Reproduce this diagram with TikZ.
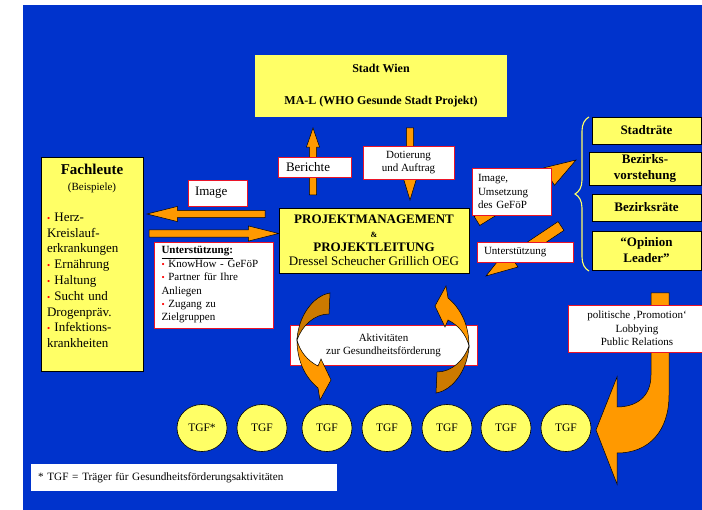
\documentclass[tikz,border=0pt]{standalone}
\usepackage{fontspec}
\setmainfont{Liberation Serif}
\usetikzlibrary{positioning, calc, shapes.geometric, shapes.arrows, decorations.pathreplacing}

\definecolor{bgblue}{RGB}{0,51,204}
\definecolor{boxyellow}{RGB}{255,255,102}
\definecolor{arrorange}{RGB}{255,153,0}
\definecolor{arrdark}{RGB}{204,122,0}
\definecolor{lblred}{RGB}{235,20,40}

\newcommand{\rdot}{\textcolor{red}{\fontsize{9}{9}\selectfont•}\ }

% block arrow from #2 to #3
\newcommand{\fatarrow}[3][]{%
  \path let \p1 = ($(#3)-(#2)$), \n1 = {veclen(\x1,\y1)} in
    (#2) -- node[pos=0, sloped, allow upside down, anchor=tail, blockarr, minimum height=\n1, #1] {} (#3);%
}

% curved arrow round the activities box
\newcommand{\swirl}{%
  \filldraw[draw=black, line width=0.5pt, fill=arrdark]
    (330,293) .. controls (312,296) and (298,318) .. (297,340)
    .. controls (302,326) and (314,314) .. (329,314) -- cycle;
  \filldraw[draw=black, line width=0.5pt, fill=arrorange]
    (297,340) .. controls (297,362) and (306,378) .. (318,388)
    -- (320,400) -- (331,380) -- (321,359) -- (318,366)
    .. controls (308,361) and (300,352) .. (297,340) -- cycle;
}

\tikzset{
  ybox/.style={draw=black, line width=0.6pt, fill=boxyellow, inner sep=0pt},
  wlabel/.style={draw=lblred, line width=0.7pt, fill=white, inner sep=0pt,
    font=\fontsize{11}{13.4}\selectfont},
  rbox/.style={ybox, minimum width=109pt, align=center,
    font=\bfseries\fontsize{13}{16}\selectfont},
  blockarr/.style={single arrow, draw=black, line width=0.5pt, fill=arrorange,
    inner xsep=0pt, inner ysep=3.3pt, outer sep=0pt,
    single arrow head extend=4pt, single arrow tip angle=28},
  tgf/.style={ellipse, draw=black, line width=0.6pt, fill=boxyellow,
    minimum width=50pt, minimum height=47pt, inner sep=0pt,
    font=\fontsize{11.5}{13}\selectfont},
  yellowbrace/.style={decorate, decoration={brace, amplitude=14pt},
    draw=boxyellow, line width=1.1pt},
}

\begin{document}
\begin{tikzpicture}[x=1pt, y=-1pt]
  \useasboundingbox (0,0) rectangle (702,510);
  \fill[white] (0,0) rectangle (702,510);
  \fill[bgblue] (23,5) rectangle (702,510);

  % main boxes
  \node[ybox, draw=none, minimum width=252pt, minimum height=62pt, align=center,
        font=\bfseries\fontsize{12}{14}\selectfont] (wien) at (381,86)
        {Stadt Wien\\[18pt]MA-L (WHO Gesunde Stadt Projekt)};
  \node[ybox, minimum width=190pt, minimum height=65pt, align=center,
        font=\fontsize{13}{14}\selectfont] (pm) at (374,240.5)
        {\textbf{PROJEKTMANAGEMENT}\\{\fontsize{8}{9}\selectfont\textbf{\&}}\\
         \textbf{PROJEKTLEITUNG}\\Dressel Scheucher Grillich OEG};
  \node[ybox, text width=90pt, inner xsep=6pt, minimum height=214pt, align=left,
        font=\fontsize{13}{15.8}\selectfont] (fach) at (92,264)
        {{\centering{\fontsize{15}{17}\selectfont\bfseries Fachleute}\\
          {\fontsize{11}{13}\selectfont (Beispiele)}\par}%
         \vspace{15pt}%
         \rdot Herz-\\Kreislauf-\\erkrankungen\\\rdot Ernährung\\\rdot Haltung\\
         \rdot Sucht und\\Drogenpräv.\\\rdot Infektions-\\krankheiten\par
         \vspace{16pt}\hrule height 0pt depth 0pt width 0pt};

  % decision makers
  \node[rbox, minimum height=27pt] (stadtr) at (646.5,130.5) {Stadträte};
  \node[rbox, minimum width=112pt, minimum height=33pt] (bezv) at (645,168.5) {Bezirks-\\vorstehung};
  \node[rbox, minimum height=27pt] (bezr) at (646.5,207.5) {Bezirksräte};
  \node[rbox, minimum height=39pt] (opin) at (646.5,250.5) {“Opinion\\Leader”};
  \draw[yellowbrace] (589,271) -- (589,117);

  % arrow ends
  \coordinate (berS) at (313,195);
  \coordinate (berE) at (313,128);
  \coordinate (dotS) at (410,128);
  \coordinate (dotE) at (410,200);
  \coordinate (leftS) at (265,214);
  \coordinate (leftE) at (147,214);
  \coordinate (rightS) at (149,233.5);
  \coordinate (rightE) at ([yshift=7pt]pm.west);
  \coordinate (upS) at (477,221);
  \coordinate (upE) at (576,160);
  \coordinate (dnS) at (561,226);
  \coordinate (dnE) at (486,276);

  \fatarrow[single arrow head extend=3pt, single arrow tip angle=38]{berS}{berE}
  \fatarrow[single arrow head extend=3pt, single arrow tip angle=34]{dotS}{dotE}
  \fatarrow{leftS}{leftE}
  \fatarrow{rightS}{rightE}
  \fatarrow[inner ysep=5pt, single arrow head extend=5pt, single arrow tip angle=36]{upS}{upE}
  \fatarrow[inner ysep=5pt, single arrow head extend=5pt, single arrow tip angle=36]{dnS}{dnE}

  % big hook arrow to the TGFs
  \filldraw[draw=black, line width=0.5pt, fill=arrorange]
    (651,293) -- (651,375) .. controls (651,398) and (635,407) .. (617,407)
    -- (617,377) -- (596,430) -- (617,484) -- (617,453)
    .. controls (650,453) and (669,430) .. (669,395) -- (669,293) -- cycle;

  % labels
  \node[wlabel, text width=45pt, inner xsep=7pt, minimum height=26pt, align=left,
        font=\fontsize{13}{15}\selectfont] (img) at (217.5,193) {Image};
  \node[wlabel, text width=57pt, inner xsep=8pt, minimum height=20pt, align=left,
        font=\fontsize{13}{15}\selectfont] (ber) at (314.5,167) {Berichte};
  \node[wlabel, minimum width=91pt, minimum height=33pt, align=center] (dot) at (408.5,162.5)
        {Dotierung\\und Auftrag};
  \node[wlabel, text width=67pt, inner xsep=6pt, minimum height=47pt, align=left] (pmimg) at (511.5,191.5)
        {Image,\\Umsetzung\\des GeFöP};
  \node[wlabel, text width=82pt, inner xsep=7pt, minimum height=20pt, align=left] (unt2) at (525,252)
        {Unterstützung};
  \node[wlabel, text width=104pt, inner xsep=7.5pt, minimum height=86pt, align=left] (unt1) at (213.5,285)
        {\underline{\textbf{Unterstützung:}}\\\rdot KnowHow - GeFöP\\\rdot Partner für Ihre\\
         Anliegen\\\rdot Zugang zu\\Zielgruppen};
  \node[wlabel, minimum width=138pt, minimum height=47pt, align=center] (polit) at (637,328.5)
        {politische ‚Promotion‘\\Lobbying\\Public Relations};

  % activities
  \node[wlabel, minimum width=187pt, minimum height=40pt, align=center,
        font=\fontsize{11}{13}\selectfont] (akt) at (383.5,345)
        {Aktivitäten\\zur Gesundheitsförderung};
  \swirl
  \begin{scope}[rotate around={180:(383,343)}]
    \swirl
  \end{scope}

  % carriers
  \foreach \x [count=\i] in {202,262,327,387,447,506,566}
    \node[tgf] (tgf\i) at (\x,428) {\ifnum\i=1 TGF*\else TGF\fi};

  \node[fill=white, text width=292pt, inner xsep=7pt, minimum height=27pt, align=left,
        font=\fontsize{11.2}{13}\selectfont] (note) at (184,477.5)
        {* TGF = Träger für Gesundheitsförderungsaktivitäten};
\end{tikzpicture}
\end{document}
